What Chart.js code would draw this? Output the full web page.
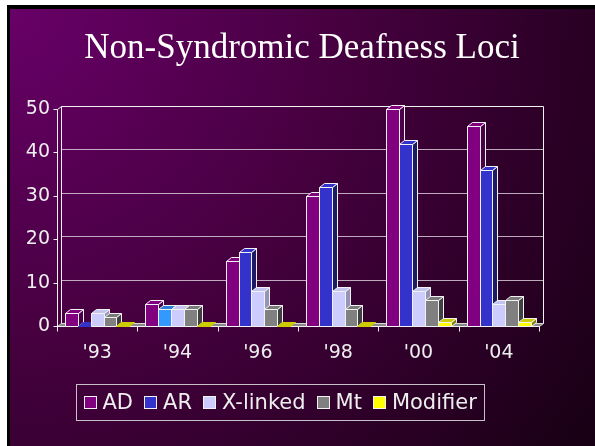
<!DOCTYPE html>
<html lang="en">
<head>
  <meta charset="UTF-8">
  <title>Non-Syndromic Deafness Loci</title>
  <script src="https://cdn.jsdelivr.net/npm/chart.js"></script>
  <style>
    html, body { margin: 0; padding: 0; background: #fff; }
  </style>
</head>
<body>
  <canvas id="lociChart" width="595" height="446"></canvas>

  <script>
    // data
    const years = ["'93", "'94", "'96", "'98", "'00", "'04"];
    const adLoci = [3, 5, 15, 30, 50, 46];
    const arLoci = [0, 4, 17, 32, 42, 36];
    const xLinkedLoci = [3, 4, 8, 8, 8, 5];
    const mtLoci = [2, 4, 4, 4, 6, 6];
    const modifierLoci = [0, 0, 0, 0, 1, 1];
    const yTicks = [0, 10, 20, 30, 40, 50];

    // face / top / side colours for the fake 3D look
    const palette = {
      AD: { face: '#800080', top: '#800080', side: '#4a004a' },
      AR: { face: '#3333cc', top: '#3333cc', side: '#1c1c66' },
      ARlight: { face: '#3399ff', top: '#2a80d8', side: '#1a4d80' },
      X: { face: '#ccccff', top: '#c4c4f0', side: '#9494b8' },
      Mt: { face: '#808080', top: '#7a7a7a', side: '#404040' },
      Mod: { face: '#ffff00', top: '#cccc00', side: '#808000' }
    };
    const arColours = years.map((y, i) => i === 1 ? palette.ARlight : palette.AR);

    const BAR_DX = 5, BAR_DY = 4;   // bar depth
    const WALL_DX = 4, WALL_DY = 3; // back wall offset
    const EDGE = '#f2f2f2';
    const TEXT = '#eeeeee';

    function poly(ctx, pts, fill, stroke) {
      ctx.beginPath();
      ctx.moveTo(pts[0][0], pts[0][1]);
      for (let i = 1; i < pts.length; i++) ctx.lineTo(pts[i][0], pts[i][1]);
      ctx.closePath();
      if (fill) { ctx.fillStyle = fill; ctx.fill(); }
      if (stroke) { ctx.strokeStyle = stroke; ctx.lineWidth = 1; ctx.stroke(); }
    }

    function line(ctx, x1, y1, x2, y2, colour) {
      ctx.beginPath();
      ctx.moveTo(x1, y1);
      ctx.lineTo(x2, y2);
      ctx.strokeStyle = colour;
      ctx.lineWidth = 1;
      ctx.stroke();
    }

    function draw3dBar(ctx, bar, col) {
      const p = bar.getProps(['x', 'y', 'base', 'width'], true);
      const l = Math.round(p.x - p.width / 2) + 0.5;
      const r = Math.round(p.x + p.width / 2) + 0.5;
      const t = Math.round(p.y) + 0.5;
      const b = Math.round(p.base) + 0.5;
      if (b - t < 1) {
        // zero value: only a flat slab on the floor
        poly(ctx, [[l, b], [r, b], [r + BAR_DX, b - BAR_DY], [l + BAR_DX, b - BAR_DY]], col.top, col.top);
        return;
      }
      poly(ctx, [[r, t], [r + BAR_DX, t - BAR_DY], [r + BAR_DX, b - BAR_DY], [r, b]], col.side, EDGE);
      poly(ctx, [[l, t], [r, t], [r + BAR_DX, t - BAR_DY], [l + BAR_DX, t - BAR_DY]], col.top, EDGE);
      poly(ctx, [[l, t], [r, t], [r, b], [l, b]], col.face, EDGE);
    }

    const slideBackground = {
      id: 'slideBackground',
      beforeDraw(chart) {
        const ctx = chart.ctx;
        const w = chart.width, h = chart.height;
        ctx.save();
        ctx.fillStyle = '#ffffff';
        ctx.fillRect(0, 0, w, h);
        ctx.fillStyle = '#000000';
        ctx.fillRect(7, 5, w - 7, h - 5);
        const g = ctx.createRadialGradient(10, 9, 0, 10, 9, 740);
        g.addColorStop(0, '#680068');
        g.addColorStop(0.45, '#46003f');
        g.addColorStop(1, '#160012');
        ctx.fillStyle = g;
        ctx.fillRect(10, 9, w - 10, h - 9);

        ctx.fillStyle = '#ffffff';
        ctx.font = '35px "Liberation Serif"';
        ctx.textAlign = 'center';
        ctx.textBaseline = 'alphabetic';
        ctx.fillText('Non-Syndromic Deafness Loci', 302, 58);
        ctx.restore();
      }
    };

    const bars3d = {
      id: 'bars3d',
      beforeDatasetsDraw(chart) {
        const ctx = chart.ctx;
        const a = chart.chartArea;
        const ys = chart.scales.y;
        const L = Math.round(a.left) + 0.5, R = Math.round(a.right) + 0.5;
        const B = Math.round(a.bottom) + 0.5, T = Math.round(a.top) + 0.5;
        ctx.save();

        // back wall grid
        yTicks.forEach(v => {
          const yy = Math.round(ys.getPixelForValue(v)) - WALL_DY + 0.5;
          line(ctx, L + WALL_DX, yy, R + WALL_DX, yy, v === 50 ? EDGE : 'rgba(215,200,215,0.85)');
        });
        line(ctx, L + WALL_DX, T - WALL_DY, L + WALL_DX, B - WALL_DY, EDGE);
        line(ctx, R + WALL_DX, T - WALL_DY, R + WALL_DX, B - WALL_DY, EDGE);

        // floor slab
        poly(ctx, [[L, B], [R, B], [R + WALL_DX, B - WALL_DY], [L + WALL_DX, B - WALL_DY]], '#8a8a8a', '#d8d8d8');

        // front axes with tick marks
        line(ctx, L, T, L, B, EDGE);
        line(ctx, L, T, L + WALL_DX, T - WALL_DY, EDGE);
        yTicks.forEach(v => {
          const yy = Math.round(ys.getPixelForValue(v)) + 0.5;
          line(ctx, L - 4, yy, L, yy, EDGE);
        });
        line(ctx, L, B, R, B, EDGE);
        for (let i = 0; i <= years.length; i++) {
          const xx = Math.round(a.left + i * (a.right - a.left) / years.length) + 0.5;
          line(ctx, xx, B, xx, B + 5, EDGE);
        }

        // bars: category by category, series left to right
        for (let c = 0; c < years.length; c++) {
          chart.data.datasets.forEach((ds, i) => {
            const bar = chart.getDatasetMeta(i).data[c];
            const col = Array.isArray(ds.colours) ? ds.colours[c] : ds.colours;
            draw3dBar(ctx, bar, col);
          });
        }
        ctx.restore();
        return false;
      }
    };

    const boxedLegend = {
      id: 'boxedLegend',
      afterDraw(chart) {
        const ctx = chart.ctx;
        const items = chart.data.datasets;
        const sq = 13, gapText = 6, gapItem = 11;
        ctx.save();
        ctx.font = '21px "DejaVu Sans"';
        const widths = items.map(ds => ctx.measureText(ds.label).width);
        const total = widths.reduce((s, w) => s + sq + gapText + w, 0) + gapItem * (items.length - 1);
        const padL = 7, padR = 8;
        const boxW = total + padL + padR;
        const boxL = Math.round(280.5 - boxW / 2) + 0.5;
        const cy = 403;
        ctx.strokeStyle = '#c8c0c8';
        ctx.lineWidth = 1;
        ctx.strokeRect(boxL, 384.5, Math.round(boxW), 36);

        let x = boxL + padL;
        ctx.textBaseline = 'middle';
        ctx.textAlign = 'left';
        items.forEach((ds, i) => {
          const col = Array.isArray(ds.colours) ? ds.colours[0] : ds.colours;
          ctx.fillStyle = col.face;
          ctx.fillRect(Math.round(x), cy - 7, sq, sq);
          ctx.strokeStyle = EDGE;
          ctx.strokeRect(Math.round(x) + 0.5, cy - 6.5, sq - 1, sq - 1);
          x += sq + gapText;
          ctx.fillStyle = TEXT;
          ctx.fillText(ds.label, x, cy + 1);
          x += widths[i] + gapItem;
        });
        ctx.restore();
      }
    };

    new Chart(document.getElementById('lociChart'), {
      type: 'bar',
      data: {
        labels: years,
        datasets: [
          { label: 'AD', data: adLoci, colours: palette.AD, backgroundColor: palette.AD.face },
          { label: 'AR', data: arLoci, colours: arColours, backgroundColor: palette.AR.face },
          { label: 'X-linked', data: xLinkedLoci, colours: palette.X, backgroundColor: palette.X.face },
          { label: 'Mt', data: mtLoci, colours: palette.Mt, backgroundColor: palette.Mt.face },
          { label: 'Modifier', data: modifierLoci, colours: palette.Mod, backgroundColor: palette.Mod.face }
        ]
      },
      options: {
        responsive: false,
        animation: false,
        devicePixelRatio: 1,
        datasets: { bar: { categoryPercentage: 0.8, barPercentage: 1.0 } },
        layout: { padding: { top: 109, right: 56, bottom: 0, left: 0 } },
        plugins: {
          legend: { display: false },
          title: { display: false },
          tooltip: { enabled: false }
        },
        scales: {
          x: {
            grid: { display: false, drawTicks: false },
            border: { display: false },
            ticks: { color: TEXT, font: { family: 'DejaVu Sans', size: 19 }, padding: 16 },
            afterFit: s => { s.height = 120; }
          },
          y: {
            min: 0,
            max: 50,
            grid: { display: false, drawTicks: false },
            border: { display: false },
            ticks: { color: TEXT, font: { family: 'DejaVu Sans', size: 19 }, padding: 7 },
            afterBuildTicks: s => { s.ticks = yTicks.map(v => ({ value: v })); },
            afterFit: s => { s.width = 57; }
          }
        }
      },
      plugins: [slideBackground, bars3d, boxedLegend]
    });
  </script>
</body>
</html>
